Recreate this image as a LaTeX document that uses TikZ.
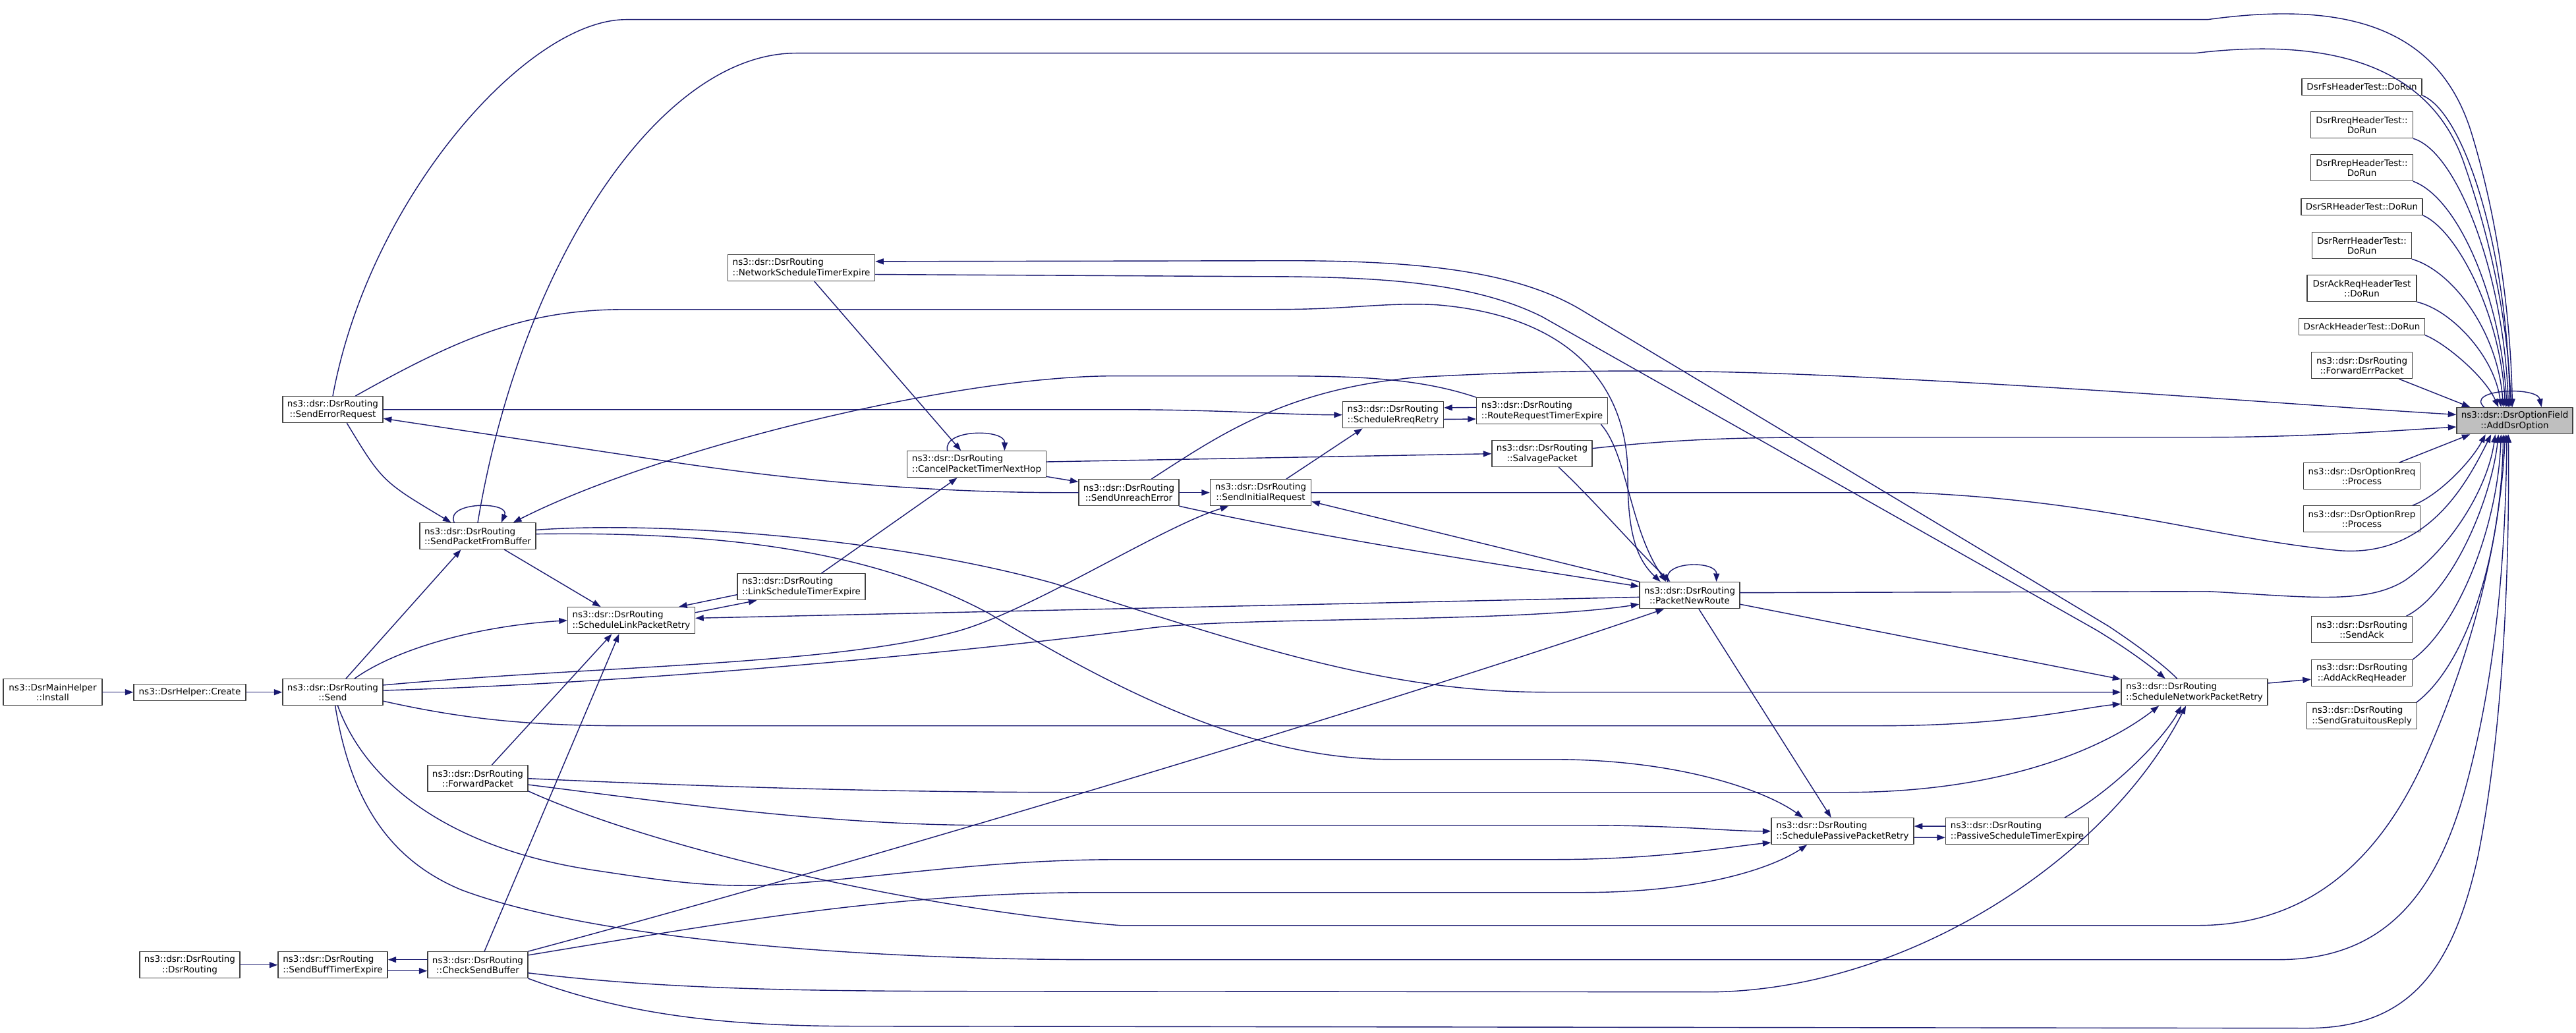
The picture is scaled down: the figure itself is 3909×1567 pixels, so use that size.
\documentclass[tikz,border=0pt]{standalone}
\usepackage{fontspec}
\setmainfont{DejaVu Sans}
\usetikzlibrary{arrows.meta}
\definecolor{edgeblue}{HTML}{191970}

\begin{document}
\begin{tikzpicture}[x=0.01cm, y=-0.01cm, line cap=round, line join=round,
    fn/.style={draw=black!75, line width=0.38pt, fill=white, align=center,
      font=\fontsize{3.84}{4.38}\selectfont, inner xsep=0.06cm, inner ysep=0.02cm,
      minimum height=0.40cm},
    fnl/.style={fn, align=left},
    one/.style={fn, minimum height=0.25cm},
    call/.style={draw=edgeblue, line width=0.4pt, -{Triangle[length=0.125cm,width=0.09cm]}}]
  \fill[white] (0,0) rectangle (3909,1567);

  % left part
  \node[fn, minimum width=1.50cm] (install) at (80,1050) {ns3::DsrMainHelper\\::Install};
  \node[one, minimum width=1.70cm] (create) at (288,1050) {ns3::DsrHelper::Create};
  \node[fn, minimum width=1.52cm] (send) at (505,1050) {ns3::dsr::DsrRouting\\::Send};
  \node[fn, minimum width=1.52cm] (senderr) at (505,621) {ns3::dsr::DsrRouting\\::SendErrorRequest};
  \node[fnl, minimum width=1.76cm] (spfb) at (725,813) {ns3::dsr::DsrRouting\\::SendPacketFromBuffer};
  \node[fn, minimum width=1.52cm] (fwd) at (725,1181) {ns3::dsr::DsrRouting\\::ForwardPacket};
  \node[fn, minimum width=1.52cm] (dsrr) at (288,1464) {ns3::dsr::DsrRouting\\::DsrRouting};
  \node[fnl, minimum width=1.66cm] (sbte) at (505,1464) {ns3::dsr::DsrRouting\\::SendBuffTimerExpire};
  \node[fn, minimum width=1.52cm] (csb) at (725,1464) {ns3::dsr::DsrRouting\\::CheckSendBuffer};
  \node[fnl, minimum width=1.93cm] (slpr) at (958,941) {ns3::dsr::DsrRouting\\::ScheduleLinkPacketRetry};
  \node[fnl, minimum width=1.94cm] (lste) at (1216,890) {ns3::dsr::DsrRouting\\::LinkScheduleTimerExpire};
  \node[fnl, minimum width=2.23cm] (nste) at (1216,406) {ns3::dsr::DsrRouting\\::NetworkScheduleTimerExpire};
  \node[fnl, minimum width=2.11cm] (cptnh) at (1482,704) {ns3::dsr::DsrRouting\\::CancelPacketTimerNextHop};

  % middle part
  \node[fn, minimum width=1.52cm] (sue) at (1713,747) {ns3::dsr::DsrRouting\\::SendUnreachError};
  \node[fn, minimum width=1.53cm] (sir) at (1913,747) {ns3::dsr::DsrRouting\\::SendInitialRequest};
  \node[fnl, minimum width=1.53cm] (srr) at (2114,629) {ns3::dsr::DsrRouting\\::ScheduleRreqRetry};
  \node[fnl, minimum width=1.99cm] (rrte) at (2340,623) {ns3::dsr::DsrRouting\\::RouteRequestTimerExpire};
  \node[fn, minimum width=1.52cm] (salv) at (2340,688) {ns3::dsr::DsrRouting\\::SalvagePacket};
  \node[fn, minimum width=1.52cm] (pnr) at (2564,903) {ns3::dsr::DsrRouting\\::PacketNewRoute};
  \node[fnl, minimum width=2.16cm] (sppr) at (2796,1261) {ns3::dsr::DsrRouting\\::SchedulePassivePacketRetry};
  \node[fnl, minimum width=2.17cm] (pste) at (3061,1261) {ns3::dsr::DsrRouting\\::PassiveScheduleTimerExpire};
  \node[fnl, minimum width=2.22cm] (snpr) at (3330,1050) {ns3::dsr::DsrRouting\\::ScheduleNetworkPacketRetry};

  % right column
  \node[one, minimum width=1.82cm] (fs) at (3584,131) {DsrFsHeaderTest::DoRun};
  \node[fn, minimum width=1.55cm] (rreq) at (3584,189) {DsrRreqHeaderTest::\\DoRun};
  \node[fn, minimum width=1.55cm] (rrep) at (3584,254) {DsrRrepHeaderTest::\\DoRun};
  \node[one, minimum width=1.84cm] (sr) at (3584,313) {DsrSRHeaderTest::DoRun};
  \node[fn, minimum width=1.51cm] (rerr) at (3584,372) {DsrRerrHeaderTest::\\DoRun};
  \node[fn, minimum width=1.66cm] (ackreq) at (3584,437) {DsrAckReqHeaderTest\\::DoRun};
  \node[one, minimum width=1.91cm] (ack) at (3584,495) {DsrAckHeaderTest::DoRun};
  \node[fn, minimum width=1.53cm] (fep) at (3584,554) {ns3::dsr::DsrRouting\\::ForwardErrPacket};
  \node[fn, minimum width=1.77cm] (optrreq) at (3584,722) {ns3::dsr::DsrOptionRreq\\::Process};
  \node[fn, minimum width=1.77cm] (optrrep) at (3584,787) {ns3::dsr::DsrOptionRrep\\::Process};
  \node[fn, minimum width=1.53cm] (sendack) at (3584,955) {ns3::dsr::DsrRouting\\::SendAck};
  \node[fn, minimum width=1.53cm] (aarh) at (3584,1021) {ns3::dsr::DsrRouting\\::AddAckReqHeader};
  \node[fnl, minimum width=1.67cm] (sgr) at (3584,1086) {ns3::dsr::DsrRouting\\::SendGratuitousReply};
  \node[fn, fill=gray!50, minimum width=1.76cm] (ado) at (3816,638) {ns3::dsr::DsrOptionField\\::AddDsrOption};

  % calls, left
  \draw[call] (install) -- (create);
  \draw[call] (create) -- (send);
  \draw[call] (dsrr) -- (sbte);
  \draw[call] ([yshift=0.08cm]csb.west) -- ([yshift=0.08cm]sbte.east);
  \draw[call] ([yshift=-0.09cm]sbte.east) -- ([yshift=-0.09cm]csb.west);
  \draw[call] (senderr.north) .. controls (560,300) and (800,29) .. (950,29) -- (3350,29) .. controls (3560,0) and (3700,40) .. (3750,200) .. controls (3790,330) and (3810,480) .. (ado.100);
  \draw[call] (spfb.north) .. controls (790,400) and (1000,80) .. (1208,80) -- (3331,80) .. controls (3540,55) and (3690,100) .. (3740,250) .. controls (3785,380) and (3806,500) .. (ado.105);
  \draw[call] (senderr.-44) .. controls (580,730) .. (spfb.153);
  \draw[call] (spfb.150) .. controls (675,760) and (775,760) .. (spfb.30);
  \draw[call] (rrte.north west) .. controls (2150,572) and (2050,570) .. (1935,570) -- (1690,570) .. controls (1450,570) and (1000,680) .. (spfb.21);
  \draw[call] (spfb.-27) -- (slpr.156);
  \draw[call] (spfb.6) .. controls (1000,790) and (1350,815) .. (1600,885) .. controls (1900,980) and (2100,1050) .. (2350,1050) -- (snpr.west);
  \draw[call] (spfb.2) .. controls (1150,805) and (1350,850) .. (1500,930) .. controls (1700,1050) and (1900,1152) .. (2113,1152) -- (2356,1152) .. controls (2550,1152) and (2680,1200) .. (sppr.161);
  \draw[call] (senderr.east) -- (1700,621) .. controls (1850,621) and (1950,629) .. (srr.west);
  \draw[call] (sue.west) .. controls (1450,748) and (1250,735) .. (1016,700) -- (senderr.-10);
  \draw[call] (senderr.31) .. controls (700,510) and (800,469) .. (950,469) -- (1935,469) .. controls (2050,469) and (2100,458) .. (2180,462) .. controls (2400,480) and (2470,600) .. (2470,720) .. controls (2470,800) and (2480,845) .. (pnr.155);
  \draw[call] (nste.-5) -- (1900,419) .. controls (2080,419) and (2230,425) .. (2340,480) -- (3180,955) .. controls (3230,985) and (3265,1012) .. (snpr.155);
  \draw[call] (snpr.142) .. controls (3285,1010) and (3245,980) .. (3200,950) -- (2400,470) .. controls (2300,410) and (2150,395) .. (1954,395) -- (nste.5);
  \draw[call] (nste.-46) -- (cptnh.139);
  \draw[call] (lste.34) -- (cptnh.-145);
  \draw[call] (cptnh.155) .. controls (1430,650) and (1525,650) .. (cptnh.26);
  \draw[call] (cptnh.2) -- (salv.west);
  \draw[call] (cptnh.-10) -- (sue.168);
  \draw[call] (lste.187) -- (slpr.16);
  \draw[call] (slpr.7) -- (lste.197);
  \draw[call] (pnr.182) -- (slpr.2);
  \draw[call] (send.32) .. controls (600,985) and (720,950) .. (slpr.west);
  \draw[call] (fwd.44) -- (slpr.-145);
  \draw[call] (csb.64) -- (slpr.-132);
  \draw[call] (send.46) -- (spfb.-141);

  % calls, middle
  \draw[call] (sue) -- (sir);
  \draw[call] (sue.31) .. controls (1850,660) and (1950,590) .. (2150,572) .. controls (2400,558) and (2600,560) .. (2850,573) .. controls (3200,590) and (3500,615) .. (ado.174);
  \draw[call] (sue.-15) .. controls (2000,815) and (2300,860) .. (pnr.170);
  \draw[call] (pnr.north west) -- (sir.-10);
  \draw[call] (sir.28) -- (srr.-156);
  \draw[call] (rrte.177) -- (srr.8);
  \draw[call] (srr.-5) -- (rrte.187);
  \draw[call] (rrte.-13) .. controls (2470,690) and (2472,800) .. (pnr.150);
  \draw[call] (salv.-39) .. controls (2420,760) and (2480,830) .. (pnr.145);
  \draw[call] (pnr.148) .. controls (2520,850) and (2605,850) .. (pnr.27);
  \draw[call] (salv.6) .. controls (2550,665) and (2650,663) .. (2800,663) -- (3350,663) .. controls (3500,663) and (3650,652) .. (ado.186);
  \draw[call] (sir.east) -- (2900,747) .. controls (3200,760) and (3350,815) .. (3550,835) .. controls (3680,845) and (3740,740) .. (ado.210);
  \draw[call] (pnr.3) -- (3350,897) .. controls (3500,905) and (3590,918) .. (3650,880) .. controls (3720,830) and (3775,740) .. (ado.215);
  \draw[call] (pnr.-10) -- (snpr.170);
  \draw[call] (pnr.-56) -- (sppr.130);
  \draw[call] (csb.north east) .. controls (1300,1310) and (2100,1070) .. (pnr.-152);
  \draw[call] (send.8) .. controls (900,1010) and (1250,1010) .. (1447,959) .. controls (1560,930) and (1760,800) .. (sir.203);
  \draw[call] (send.2) .. controls (1000,1035) and (1500,985) .. (1750,952) .. controls (1900,935) and (2300,945) .. (pnr.190);
  \draw[call] (send.-10) .. controls (700,1090) and (800,1101) .. (950,1101) -- (2850,1101) .. controls (3050,1101) and (3150,1075) .. (snpr.189);
  \draw[call] (send.-70) .. controls (560,1200) and (700,1290) .. (900,1320) .. controls (1000,1335) and (1080,1348) .. (1180,1342) .. controls (1350,1330) and (1500,1304) .. (1700,1304) -- (2356,1304) .. controls (2520,1304) and (2620,1285) .. (sppr.189);
  \draw[call] (send.-80) .. controls (530,1200) and (580,1300) .. (700,1350) .. controls (900,1425) and (1300,1455) .. (1650,1456) -- (3456,1456) .. controls (3600,1456) and (3690,1380) .. (3740,1200) .. controls (3790,1020) and (3802,830) .. (ado.240);
  \draw[call] (fwd.east) .. controls (1000,1190) and (1300,1202) .. (1628,1202) -- (2800,1202) .. controls (3050,1202) and (3200,1130) .. (snpr.201);
  \draw[call] (fwd.-7) .. controls (1000,1215) and (1250,1252) .. (1500,1252) -- (2400,1252) .. controls (2550,1252) and (2620,1261) .. (sppr.west);
  \draw[call] (fwd.-14) .. controls (1000,1290) and (1400,1380) .. (1700,1404) -- (3335,1404) .. controls (3480,1404) and (3600,1330) .. (3680,1150) .. controls (3760,970) and (3795,800) .. (ado.235);
  \draw[call] (csb.11) .. controls (1100,1400) and (1350,1355) .. (1650,1354) -- (2400,1354) .. controls (2600,1354) and (2700,1310) .. (sppr.201);
  \draw[call] (csb.-9) .. controls (1000,1500) and (1200,1504) .. (1500,1504) -- (2600,1505) .. controls (2900,1500) and (3200,1300) .. (snpr.-122);
  \draw[call] (csb.-15) .. controls (950,1540) and (1100,1557) .. (1300,1557) -- (3500,1560) .. controls (3650,1560) and (3720,1480) .. (3760,1300) .. controls (3800,1100) and (3808,850) .. (ado.245);
  \draw[call] (pste.16) .. controls (3220,1190) and (3290,1110) .. (snpr.-134);
  \draw[call] (pste.176) -- (sppr.4);
  \draw[call] (sppr.-5) -- (pste.185);
  \draw[call] (snpr.7) -- (aarh.187);

  % calls, right
  \draw[call] (ado.156) .. controls (3740,590) and (3850,585) .. (ado.27);
  \draw[call] (fs.south east) .. controls (3740,170) and (3805,380) .. (ado.110);
  \draw[call] (rreq.south east) .. controls (3730,230) and (3800,420) .. (ado.115);
  \draw[call] (rrep.south east) .. controls (3730,300) and (3795,450) .. (ado.120);
  \draw[call] (sr.south east) .. controls (3730,350) and (3795,480) .. (ado.125);
  \draw[call] (rerr.south east) .. controls (3720,410) and (3790,500) .. (ado.130);
  \draw[call] (ackreq.south east) .. controls (3720,470) and (3785,540) .. (ado.135);
  \draw[call] (ack.south east) .. controls (3710,520) and (3770,570) .. (ado.140);
  \draw[call] (fep.-20) -- (ado.163);
  \draw[call] (optrreq.20) -- (ado.197);
  \draw[call] (optrrep.15) .. controls (3700,752) and (3750,700) .. (ado.205);
  \draw[call] (sendack.17) .. controls (3720,900) and (3780,760) .. (ado.220);
  \draw[call] (aarh.north east) .. controls (3730,950) and (3790,800) .. (ado.225);
  \draw[call] (sgr.14) .. controls (3740,1010) and (3795,850) .. (ado.230);
\end{tikzpicture}
\end{document}
